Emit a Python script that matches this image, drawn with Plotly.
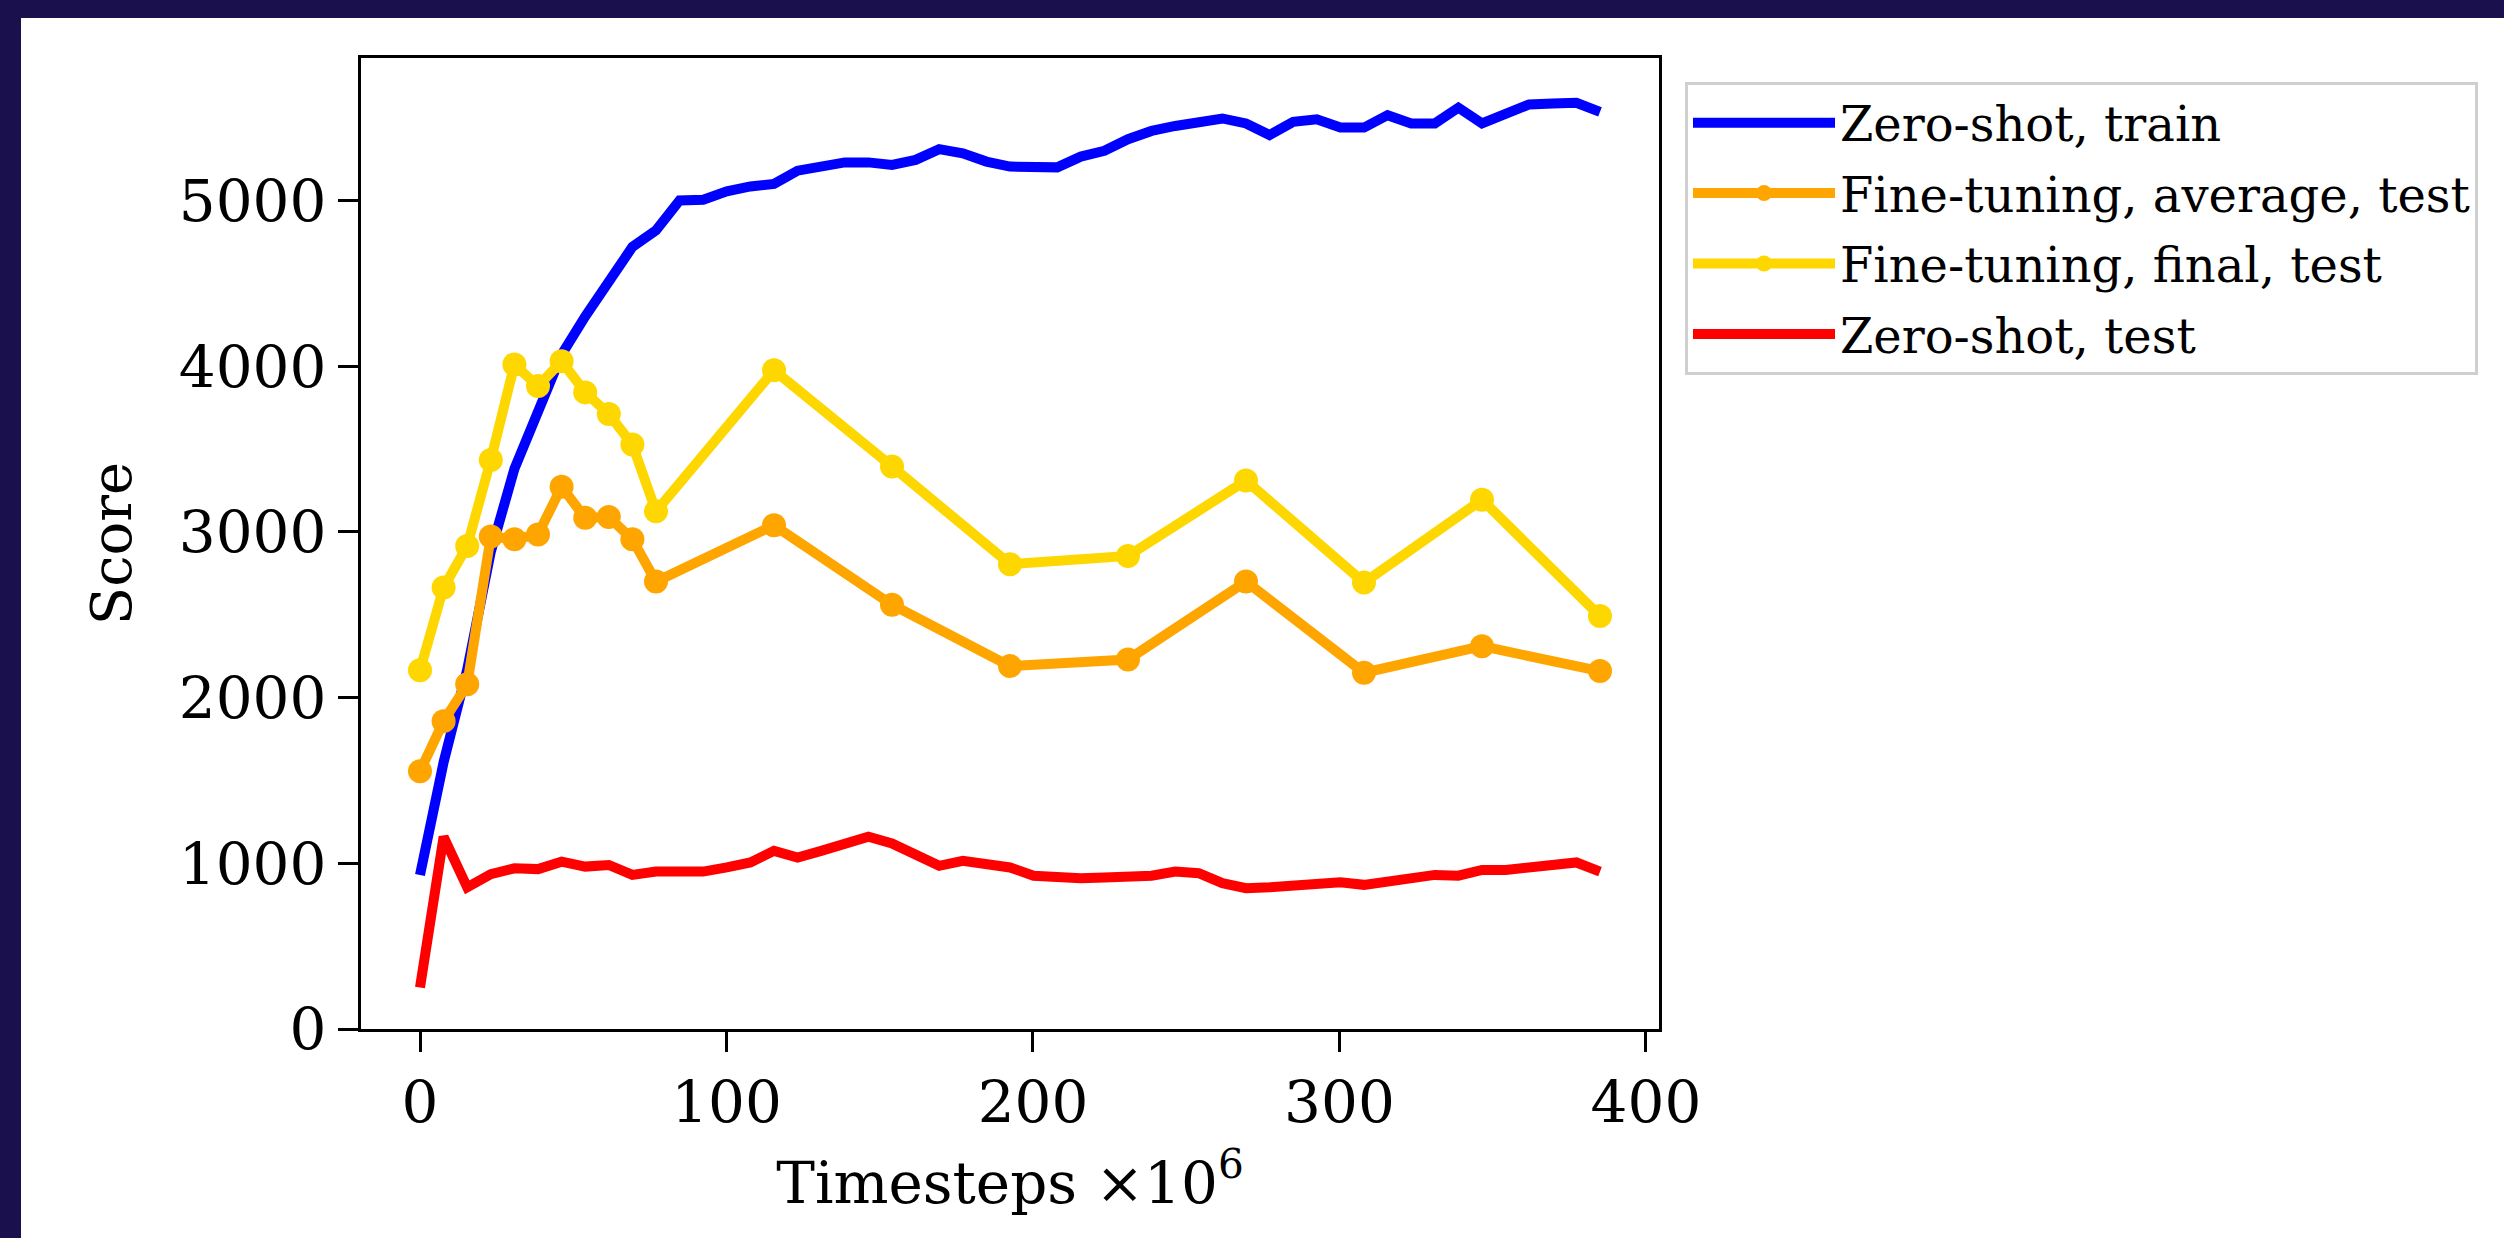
import plotly.graph_objects as go

# ---- data ----
dense_x = [round(7.7 * k, 1) for k in range(51)]
zero_shot_train = [930, 1610, 2170, 2880, 3380, 3720, 4070, 4300, 4520, 4720,
                   4820, 5000, 5005, 5055, 5085, 5100, 5180, 5205, 5230, 5230,
                   5215, 5245, 5310, 5285, 5235, 5205, 5195, 5200, 5265, 5300,
                   5370, 5420, 5450, 5465, 5495, 5465, 5395, 5475, 5490, 5440,
                   5440, 5515, 5465, 5465, 5560, 5465, 5520, 5580, 5585, 5590,
                   5535]
zero_shot_test = [250, 1160, 855, 935, 970, 965, 1010, 980, 990, 930,
                  950, 945, 950, 975, 1005, 1075, 1035, 1075, 1125, 1160,
                  1120, 1055, 985, 1015, 990, 975, 925, 910, 910, 915,
                  920, 925, 950, 940, 880, 850, 855, 860, 870, 885,
                  870, 895, 920, 930, 925, 960, 960, 975, 995, 1005,
                  950]

ft_x = [0, 7.7, 15.4, 23.1, 30.8, 38.5, 46.2, 53.9, 61.6, 69.3, 77,
        115.5, 154, 192.5, 231, 269.5, 308, 346.5, 385]
ft_average = [1555, 1858, 2080, 2972, 2955, 2985, 3272, 3085, 3090, 2955, 2700,
              3040, 2560, 2190, 2230, 2700, 2150, 2310, 2160]
ft_final = [2165, 2665, 2915, 3434, 4010, 3880, 4030, 3842, 3712, 3527, 3124,
            3975, 3395, 2805, 2855, 3310, 2694, 3194, 2492]

x_ticks = [0, 100, 200, 300, 400]
y_ticks = [0, 1000, 2000, 3000, 4000, 5000]

FONT = "DejaVu Serif"
NAVY = "#1b104e"
W, H = 2504, 1238
L, R, T, B = 361, 1659, 58, 1029  # plot area in pixels
pw, ph = R - L, B - T

def px_x(p):
    return (p - L) / pw

def px_y(p):
    return (B - p) / ph

fig = go.Figure()
fig.add_trace(go.Scatter(x=dense_x, y=zero_shot_train, mode="lines",
                         name="Zero-shot, train", legendgroup="a",
                         line=dict(color="#0000ff", width=10)))
fig.add_trace(go.Scatter(x=ft_x, y=ft_average, mode="lines+markers",
                         name="Fine-tuning, average, test", legendgroup="b",
                         line=dict(color="#ffa500", width=10),
                         marker=dict(color="#ffa500", size=24, symbol="circle")))
fig.add_trace(go.Scatter(x=ft_x, y=ft_final, mode="lines+markers",
                         name="Fine-tuning, final, test", legendgroup="c",
                         line=dict(color="#ffd700", width=10),
                         marker=dict(color="#ffd700", size=24, symbol="circle")))
fig.add_trace(go.Scatter(x=dense_x, y=zero_shot_test, mode="lines",
                         name="Zero-shot, test", legendgroup="d",
                         line=dict(color="#ff0000", width=10)))

# navy frame along the top and left edges
fig.add_shape(type="rect", xref="paper", yref="paper", layer="below",
              x0=px_x(-10), x1=px_x(W + 10), y0=px_y(18), y1=px_y(-10),
              fillcolor=NAVY, line=dict(width=0))
fig.add_shape(type="rect", xref="paper", yref="paper", layer="below",
              x0=px_x(-10), x1=px_x(21), y0=px_y(H + 10), y1=px_y(-10),
              fillcolor=NAVY, line=dict(width=0))

axis_common = dict(showgrid=False, zeroline=False, showline=True, mirror=True,
                   linecolor="black", linewidth=3, ticks="outside", ticklen=20,
                   tickwidth=3, tickcolor="black",
                   tickfont=dict(family=FONT, size=58, color="black"))

fig.update_layout(
    width=W, height=H,
    margin=dict(l=L, r=W - R, t=T, b=H - B, autoexpand=False),
    paper_bgcolor="white", plot_bgcolor="white",
    font=dict(family=FONT, color="black"),
    xaxis=dict(range=[-19.25, 404.25], tickvals=x_ticks,
               title=dict(text="Timesteps ×10<sup>6</sup>",
                          font=dict(family=FONT, size=58), standoff=28),
               **axis_common),
    yaxis=dict(range=[0, 5860], tickvals=y_ticks,
               title=dict(text="Score", font=dict(family=FONT, size=56),
                          standoff=30),
               **axis_common),
    legend=dict(x=px_x(1685), y=px_y(82), xanchor="left", yanchor="top",
                bgcolor="white", bordercolor="#cfcfcf", borderwidth=3,
                font=dict(family=FONT, size=48, color="black"),
                itemwidth=142, traceorder="grouped", tracegroupgap=5),
    showlegend=True,
)

fig.write_html("out.html",
               config={"displayModeBar": False},
               post_script="document.body.style.margin='0';"
                           "document.body.style.overflow='hidden';")
